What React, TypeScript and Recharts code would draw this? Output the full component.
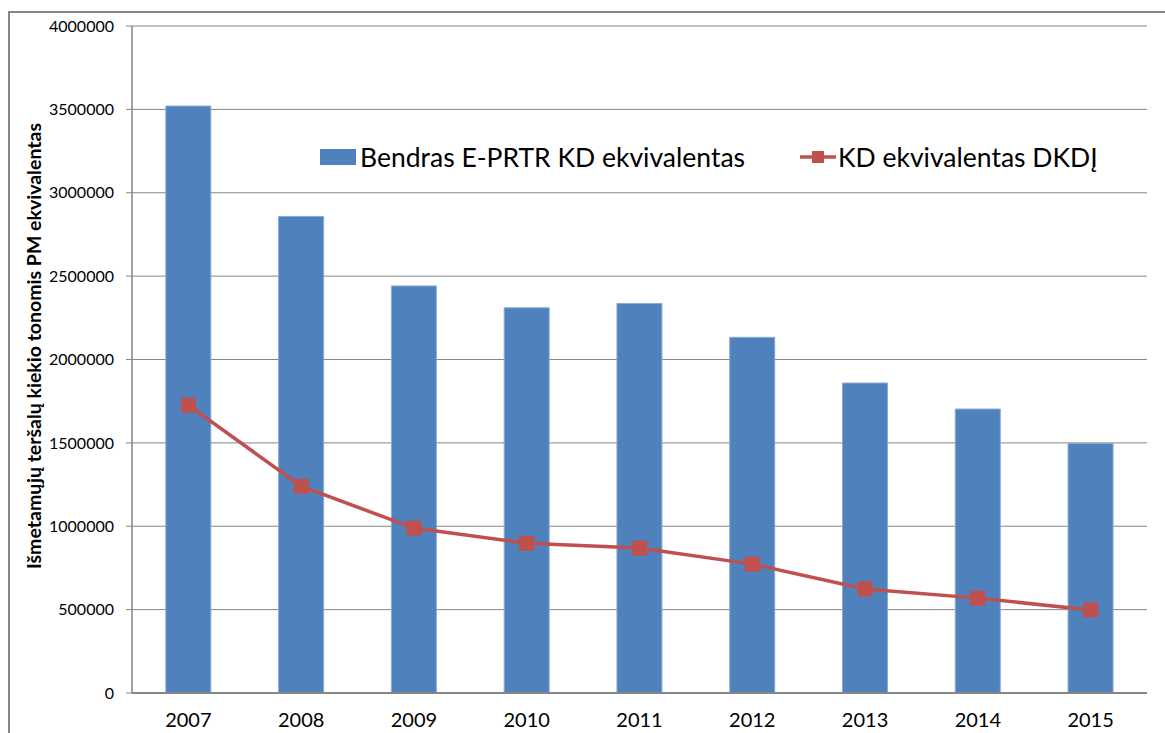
import React from "react";
import {
  ComposedChart,
  Bar,
  Line,
  XAxis,
  YAxis,
  CartesianGrid,
} from "recharts";

const years = ["2007", "2008", "2009", "2010", "2011", "2012", "2013", "2014", "2015"];
const totalEprtr = [3520000, 2858000, 2441000, 2310000, 2336000, 2133000, 1859000, 1703000, 1496000];
const kdDkdj = [1726000, 1240000, 989000, 898000, 869000, 773000, 624000, 569000, 498000];
const yTicks = [0, 500000, 1000000, 1500000, 2000000, 2500000, 3000000, 3500000, 4000000];
const boundaryTicks = [0, 1, 2, 3, 4, 5, 6, 7, 8, 9];

const seriesNames = ["Bendras E-PRTR KD ekvivalentas", "KD ekvivalentas DKDĮ"];
const yLabel = "Išmetamųjų teršalų kiekio tonomis PM ekvivalentas";

const data = years.map((y, i) => ({ year: y, total: totalEprtr[i], kd: kdDkdj[i], idx: i + 0.5 }));

const BLUE = "#4F81BD";
const RED = "#C0504D";
const GRID = "#868686";
const FONT = "Lato, 'Open Sans', sans-serif";

const SquareDot = (props: any) => {
  const { cx, cy } = props;
  if (cx == null || cy == null) return null;
  return <rect x={cx - 7} y={cy - 7} width={14} height={14} fill={RED} stroke={RED} strokeWidth={1} />;
};

const LegendBox = () => (
  <div style={{ position: "absolute", left: 320, top: 141, width: 800, height: 32, fontFamily: FONT, fontSize: 26.5, color: "#000" }}>
    <div style={{ position: "absolute", left: 0, top: 0, display: "flex", alignItems: "center", whiteSpace: "nowrap" }}>
      <span style={{ display: "inline-block", width: 36, height: 16, background: BLUE, marginRight: 4 }} />
      <span>{seriesNames[0]}</span>
    </div>
    <div style={{ position: "absolute", left: 480, top: 0, display: "flex", alignItems: "center", whiteSpace: "nowrap" }}>
      <svg width={36} height={16} style={{ marginRight: 2 }}>
        <line x1={0} y1={8} x2={36} y2={8} stroke={RED} strokeWidth={3.5} />
        <rect x={12} y={2} width={12} height={12} fill={RED} />
      </svg>
      <span>{seriesNames[1]}</span>
    </div>
  </div>
);

export default function App() {
  return (
    <div style={{ position: "absolute", left: 0, top: 0, width: 1165, height: 733, background: "#fff", overflow: "hidden" }}>
      <div
        style={{
          position: "absolute",
          left: 8,
          top: 11,
          width: 1157,
          height: 722,
          borderTop: `2px solid ${GRID}`,
          borderLeft: `2px solid ${GRID}`,
          boxSizing: "border-box",
        }}
      />
      <div
        style={{
          position: "absolute",
          left: 33,
          top: 346,
          transform: "translate(-50%, -50%) rotate(-90deg)",
          whiteSpace: "nowrap",
          fontFamily: FONT,
          fontWeight: 700,
          fontSize: 19.5,
          color: "#000",
        }}
      >
        {yLabel}
      </div>
      <ComposedChart
        width={1165}
        height={733}
        data={data}
        margin={{ top: 26, right: 18, left: 0, bottom: 0 }}
        barCategoryGap="30%"
        style={{ position: "absolute", left: 0, top: 0 }}
      >
        <CartesianGrid vertical={false} stroke={GRID} strokeWidth={1} />
        <XAxis
          xAxisId="bound"
          type="number"
          dataKey="idx"
          domain={[0, 9]}
          ticks={boundaryTicks}
          tick={false}
          tickLine={{ stroke: GRID, strokeWidth: 1.5 }}
          tickSize={6}
          axisLine={false}
          height={0}
          allowDataOverflow
        />
        <XAxis
          dataKey="year"
          xAxisId="cat"
          tickLine={false}
          axisLine={{ stroke: GRID, strokeWidth: 2 }}
          tick={{ fill: "#000", fontSize: 20, fontFamily: FONT }}
          tickMargin={14}
          height={40}
          interval={0}
        />
        <YAxis
          width={132}
          domain={[0, 4000000]}
          ticks={yTicks}
          interval={0}
          tickLine={{ stroke: GRID, strokeWidth: 1 }}
          tickSize={6}
          tickMargin={12}
          axisLine={{ stroke: GRID, strokeWidth: 1.5 }}
          tick={{ fill: "#000", fontSize: 16, fontFamily: FONT }}
        />
        <Bar
          xAxisId="cat"
          dataKey="total"
          name={seriesNames[0]}
          fill={BLUE}
          stroke="#8AAAD6"
          strokeWidth={1}
          isAnimationActive={false}
        />
        <Line
          xAxisId="cat"
          dataKey="kd"
          name={seriesNames[1]}
          stroke={RED}
          strokeWidth={3.5}
          dot={<SquareDot />}
          activeDot={false}
          isAnimationActive={false}
        />
      </ComposedChart>
      <LegendBox />
    </div>
  );
}
